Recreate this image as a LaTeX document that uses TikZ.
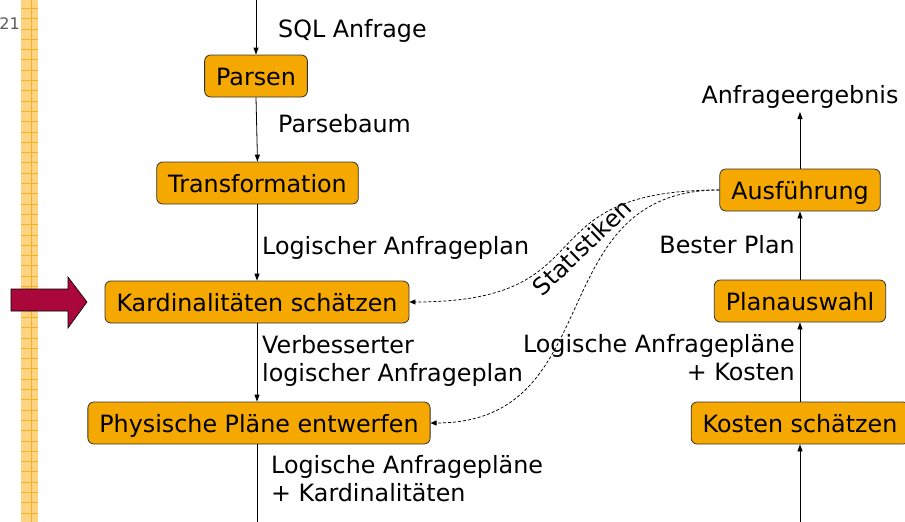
\documentclass[tikz,border=0pt]{standalone}
\usepackage{fontspec}
\setmainfont{DejaVu Sans}
\usetikzlibrary{arrows.meta}
\definecolor{boxfill}{RGB}{245,168,0}
\definecolor{arrowred}{RGB}{170,8,58}
\definecolor{stripfill}{RGB}{252,212,130}
\definecolor{stripline}{RGB}{245,178,40}
\definecolor{pagegray}{RGB}{90,90,90}
\begin{document}
\begin{tikzpicture}[x=1pt,y=-1pt,
  stepbox/.style={draw=black!80, line width=0.8pt, fill=boxfill, rounded corners=6pt,
    minimum height=42pt, inner xsep=11.5pt, inner ysep=0pt, text height=24pt, text depth=5pt,
    font=\fontsize{23.8}{28.5}\selectfont},
  lbl/.style={inner sep=0pt, font=\fontsize{23.8}{28.5}\selectfont},
  flow/.style={line width=0.8pt, -{Triangle[length=7pt,width=5pt]}},
  stat/.style={line width=0.75pt, dash pattern=on 3pt off 2pt, -{Triangle[length=6pt,width=5pt]}}]
\clip (0,0) rectangle (905,522);
\useasboundingbox (0,0) rectangle (905,522);
% left strip
\fill[stripfill] (21,0) rectangle (38,522);
\draw[stripline, line width=0.8pt] (31,0) -- (31,522);
\foreach \i in {0,...,50} {
  \draw[stripline, line width=0.8pt] (21,8.3+\i*10.3) -- (38,8.3+\i*10.3);
}
\node[inner sep=0pt, anchor=base east, text=pagegray, font=\fontsize{16}{19}\selectfont] (pagenum) at (20,29) {21};
% big arrow
\draw[fill=arrowred, draw=black, line width=0.6pt]
  (11,289) -- (68,289) -- (68,277) -- (87,302) -- (68,328) -- (68,311) -- (11,311) -- cycle;
% boxes
\node[stepbox] (parsen) at (256,76) {Parsen};
\node[stepbox] (trans) at (257.5,183) {Transformation};
\node[stepbox] (kard) at (257,302) {Kardinalitäten schätzen};
\node[stepbox] (phys) at (259,423) {Physische Pläne entwerfen};
\node[stepbox] (ausf) at (800,190) {Ausführung};
\node[stepbox] (plan) at (800,301) {Planauswahl};
\node[stepbox] (kosten) at (800,423) {Kosten schätzen};
% free ends
\coordinate (topin) at (256,0);
\coordinate (physout) at (257,522);
\coordinate (kostenin) at (800,522);
\coordinate (resultend) at (800,112);
% flow arrows
\draw[flow] (topin) -- (parsen.north);
\draw[flow] (parsen.south) -- (trans.north);
\draw[flow] (trans.south -| kard.north) -- (kard.north);
\draw[flow] (kard.south) -- (kard.south |- phys.north);
\draw[line width=0.8pt] (kard.south |- phys.south) -- (physout);
\draw[flow] (kostenin) -- (kosten.south);
\draw[flow] (kosten.north) -- (plan.south);
\draw[flow] (plan.north) -- (ausf.south);
\draw[flow] (ausf.north) -- (resultend);
% labels
\node[lbl, anchor=base west] (l1) at (278,37) {SQL Anfrage};
\node[lbl, anchor=base west] (l2) at (278,132) {Parsebaum};
\node[lbl, anchor=base west] (l3) at (262,254) {Logischer Anfrageplan};
\node[lbl, anchor=north west, align=left] (l4) at (262,335) {Verbesserter\\logischer Anfrageplan};
\node[lbl, anchor=north west, align=left] (l5) at (271,455) {Logische Anfragepläne\\+ Kardinalitäten};
\node[lbl, anchor=base] (l6) at (800,103) {Anfrageergebnis};
\node[lbl, anchor=base east] (l7) at (795,253) {Bester Plan};
\node[lbl, anchor=north east, align=right] (l8) at (795,334) {Logische Anfragepläne\\+ Kosten};
% statistics curves
\draw[stat] (ausf.west) .. controls (520,190) and (610,302) .. (kard.east);
\draw[stat] (ausf.west) .. controls (540,190) and (610,423) .. (phys.east);
\node[lbl, rotate=44] (stats) at (582,247) {Statistiken};
\end{tikzpicture}
\end{document}
